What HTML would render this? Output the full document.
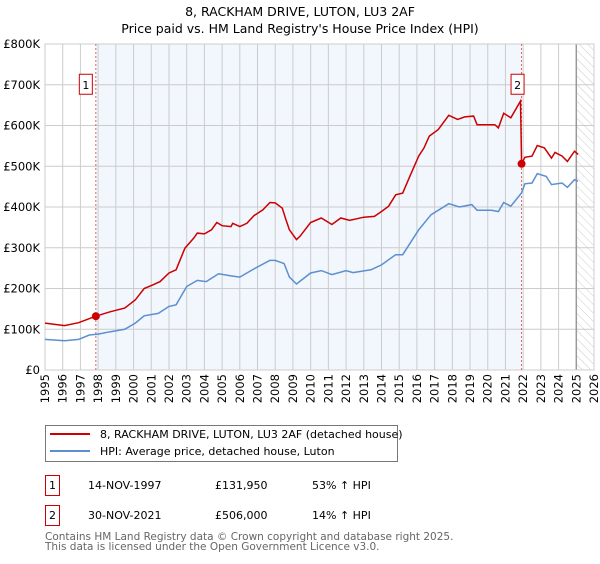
<!DOCTYPE html>
<html><head><meta charset="utf-8"><style>
body{margin:0;background:#fff;font-family:"DejaVu Sans","Liberation Sans",sans-serif;}
svg text{font-family:"DejaVu Sans","Liberation Sans",sans-serif;}
</style></head><body>
<svg id="chart" width="600" height="560" xmlns="http://www.w3.org/2000/svg">
<defs><pattern id="hatch" width="6" height="6" patternUnits="userSpaceOnUse" patternTransform="rotate(-45)"><line x1="0" y1="0" x2="0" y2="6" stroke="#ccc" stroke-width="1"/></pattern></defs>
<text x="300" y="16" text-anchor="middle" font-size="12.5" fill="#000">8, RACKHAM DRIVE, LUTON, LU3 2AF</text>
<text x="300" y="33" text-anchor="middle" font-size="12.5" fill="#000">Price paid vs. HM Land Registry's House Price Index (HPI)</text>
<g id="plot"></g>
<g>
<rect x="45.5" y="425.5" width="352" height="36" fill="#fff" stroke="#777"/>
<line x1="50" y1="434" x2="90" y2="434" stroke="#cc0000" stroke-width="2"/>
<text x="100" y="438" font-size="11">8, RACKHAM DRIVE, LUTON, LU3 2AF (detached house)</text>
<line x1="50" y1="451" x2="90" y2="451" stroke="#5b8fd0" stroke-width="2"/>
<text x="100" y="455" font-size="11">HPI: Average price, detached house, Luton</text>
</g>
<g font-size="11">
<rect x="45.5" y="475.5" width="14" height="20" fill="#fff" stroke="#cc0000"/>
<text x="52.5" y="489" text-anchor="middle">1</text>
<text x="88" y="489">14-NOV-1997</text>
<text x="215" y="489">£131,950</text>
<text x="312" y="489">53% ↑ HPI</text>
<rect x="45.5" y="505.5" width="14" height="20" fill="#fff" stroke="#cc0000"/>
<text x="52.5" y="519" text-anchor="middle">2</text>
<text x="88" y="519">30-NOV-2021</text>
<text x="215" y="519">£506,000</text>
<text x="312" y="519">14% ↑ HPI</text>
</g>
<text x="45" y="540" font-size="10.5" fill="#666">Contains HM Land Registry data © Crown copyright and database right 2025.</text>
<text x="45" y="550" font-size="10.5" fill="#666">This data is licensed under the Open Government Licence v3.0.</text>
</svg>
<script>
const priceYears=[1995.0,1996.1,1996.9,1997.87,1998.7,1999.5,2000.1,2000.6,2001.1,2001.5,2002.0,2002.4,2002.9,2003.4,2003.6,2004.0,2004.4,2004.7,2005.0,2005.5,2005.6,2006.0,2006.4,2006.8,2007.3,2007.7,2008.0,2008.4,2008.6,2008.8,2009.2,2009.4,2010.0,2010.6,2011.2,2011.7,2012.2,2013.0,2013.6,2014.0,2014.4,2014.8,2015.2,2015.6,2016.1,2016.4,2016.7,2017.2,2017.8,2018.3,2018.7,2019.2,2019.4,2020.0,2020.4,2020.6,2020.9,2021.3,2021.85,2021.91,2022.1,2022.5,2022.8,2023.2,2023.6,2023.8,2024.2,2024.5,2024.9,2025.1];
const priceValues=[115,109,116,132,143,152,172,200,209,217,238,246,299,324,336,334,344,362,354,352,360,352,360,379,393,411,410,397,369,344,320,328,362,373,357,373,367,375,377,389,402,430,434,475,525,545,574,590,625,615,621,623,602,602,602,594,630,619,660,506,522,525,551,545,520,534,525,512,537,529];
const hpiYears=[1995.0,1996.1,1996.9,1997.5,1998.0,1998.7,1999.5,2000.1,2000.6,2001.4,2002.0,2002.4,2003.0,2003.6,2004.1,2004.8,2005.5,2006.0,2006.8,2007.7,2008.0,2008.5,2008.8,2009.2,2010.0,2010.6,2011.2,2012.0,2012.4,2013.4,2014.0,2014.8,2015.2,2016.1,2016.8,2017.8,2018.4,2019.1,2019.4,2020.2,2020.6,2020.9,2021.3,2021.9,2022.1,2022.5,2022.8,2023.3,2023.6,2024.2,2024.5,2024.9,2025.1];
const hpiValues=[75,72,75,86,88,94,100,115,133,139,156,160,205,220,217,236,231,228,248,269,269,261,228,211,238,244,234,244,239,246,258,283,283,344,381,408,400,406,392,392,389,411,402,434,457,459,482,475,455,459,448,467,463];
const saleYears=[1997.87,2021.91];
const saleValues=[131.95,506];
const saleLabels=["1","2"];
const yTicks=[0,100,200,300,400,500,600,700,800];
const yTickLabels=["£0","£100K","£200K","£300K","£400K","£500K","£600K","£700K","£800K"];
const xTicks=[1995,1996,1997,1998,1999,2000,2001,2002,2003,2004,2005,2006,2007,2008,2009,2010,2011,2012,2013,2014,2015,2016,2017,2018,2019,2020,2021,2022,2023,2024,2025,2026];

const L=45,R=594,T=44,B=370,X0=1995,X1=2026;
const xs=y=>L+(y-X0)/(X1-X0)*(R-L);
const ys=v=>B-v/800*(B-T);
const NS="http://www.w3.org/2000/svg";
const g=document.getElementById('plot');
function mk(tag,attrs){const e=document.createElementNS(NS,tag);for(const k in attrs)e.setAttribute(k,attrs[k]);g.appendChild(e);return e;}
let e;
e=mk('rect',{x:xs(saleYears[0]),y:T,width:xs(saleYears[1])-xs(saleYears[0]),height:B-T,fill:'#f2f6fd'});


e=mk('rect',{x:xs(2025),y:T,width:R-xs(2025),height:B-T,fill:'url(#hatch)'});


yTicks.forEach((t,i)=>{
 e=mk('line',{x1:L,x2:R,y1:ys(t),y2:ys(t),stroke:'#ccc','stroke-width':1});
 
 
 e=mk('text',{x:L-5,y:ys(t)+4,'text-anchor':'end','font-size':11.5});
 e.textContent=yTickLabels[i];
 
 
});
xTicks.forEach(t=>{
 e=mk('line',{x1:xs(t),x2:xs(t),y1:T,y2:B,stroke:'#ccc','stroke-width':1});
 
 
 e=mk('text',{x:xs(t)+4,y:B+4,'text-anchor':'end','font-size':11.5,transform:`rotate(-90 ${xs(t)+4} ${B+4})`});
 e.textContent=t;
 
 
});
e=mk('line',{x1:xs(2025),x2:xs(2025),y1:T,y2:B,stroke:'#999','stroke-width':1.5});


e=mk('rect',{x:L,y:T,width:R-L,height:B-T,fill:'none',stroke:'#ccc'});


saleYears.forEach((y,i)=>{
 e=mk('line',{x1:xs(y),x2:xs(y),y1:T,y2:B,stroke:'#e06060','stroke-width':1,'stroke-dasharray':'2,2'});
 
 
});
const pts=(xa,va)=>xa.map((y,i)=>xs(y).toFixed(1)+','+ys(va[i]).toFixed(1)).join(' ');
e=mk('polyline',{points:pts(hpiYears,hpiValues),fill:'none',stroke:'#5b8fd0','stroke-width':1.5});


e=mk('polyline',{points:pts(priceYears,priceValues),fill:'none',stroke:'#cc0000','stroke-width':1.5});


saleYears.forEach((y,i)=>{
 e=mk('circle',{cx:xs(y),cy:ys(saleValues[i]),r:4,fill:'#cc0000'});
 
 
 const bx=xs(y)-(i===0?10:4)-7;
 e=mk('rect',{x:bx+0.5,y:ys(700)-10.5,width:13,height:20,fill:'#fff',stroke:'#cc0000'});
 
 
 e=mk('text',{x:bx+7,y:ys(700)+4,'text-anchor':'middle','font-size':11});
 e.textContent=saleLabels[i];
 
 
});
</script>
</body></html>
